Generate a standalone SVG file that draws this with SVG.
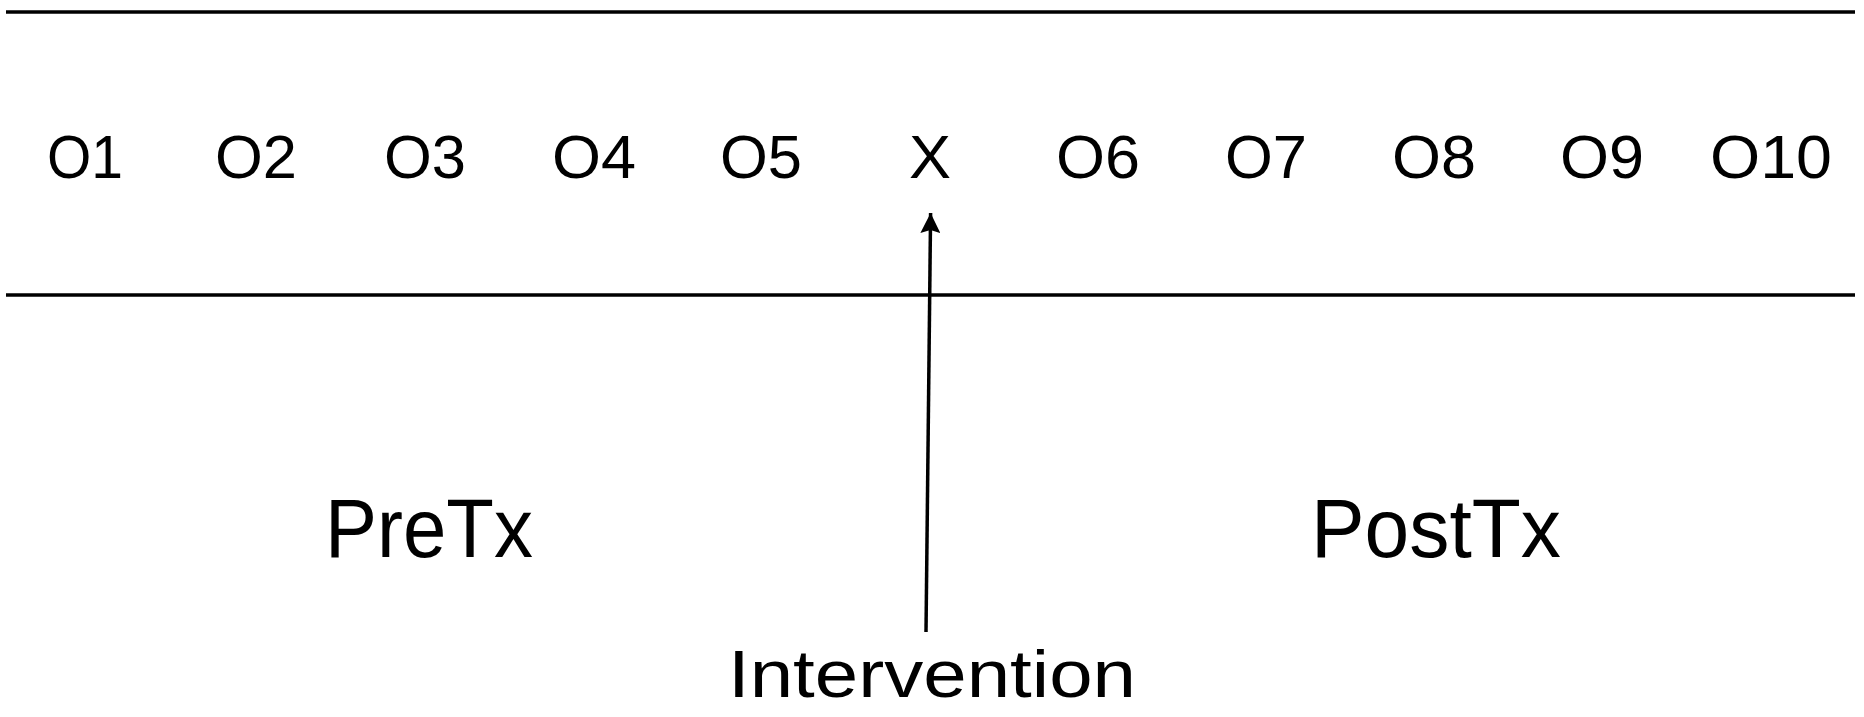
<svg xmlns="http://www.w3.org/2000/svg" width="1864" height="717" viewBox="0 0 1864 717">
<defs>
<style>
text{font-family:"Liberation Sans",Arial,sans-serif;fill:#000;text-anchor:middle}
.o{font-size:62px}
.big{font-size:83px}
.ln{stroke:#000;stroke-width:3.5;fill:none}
</style>
<marker id="ah" viewBox="0 0 10 10" refX="10" refY="5" markerWidth="20" markerHeight="20" markerUnits="userSpaceOnUse" orient="auto">
<path d="M0,0 L10,5 L0,10 L1.5,5 Z" fill="#000"/>
</marker>
</defs>
<rect width="1864" height="717" fill="#fff"/>
<g id="timeline">
<line class="ln" x1="6" y1="12" x2="1855" y2="12"/>
<line class="ln" x1="6" y1="295" x2="1855" y2="295"/>
</g>
<g id="o1"><text class="o" x="85" y="178" textLength="76" lengthAdjust="spacingAndGlyphs">O1</text></g>
<g id="o2"><text class="o" x="256" y="178" textLength="82" lengthAdjust="spacingAndGlyphs">O2</text></g>
<g id="o3"><text class="o" x="425" y="178" textLength="82" lengthAdjust="spacingAndGlyphs">O3</text></g>
<g id="o4"><text class="o" x="594" y="178" textLength="84" lengthAdjust="spacingAndGlyphs">O4</text></g>
<g id="o5"><text class="o" x="761" y="178" textLength="82" lengthAdjust="spacingAndGlyphs">O5</text></g>
<g id="x"><text class="o" x="930" y="178" textLength="42" lengthAdjust="spacingAndGlyphs">X</text></g>
<g id="o6"><text class="o" x="1098" y="178" textLength="84" lengthAdjust="spacingAndGlyphs">O6</text></g>
<g id="o7"><text class="o" x="1266" y="178" textLength="82" lengthAdjust="spacingAndGlyphs">O7</text></g>
<g id="o8"><text class="o" x="1434" y="178" textLength="84" lengthAdjust="spacingAndGlyphs">O8</text></g>
<g id="o9"><text class="o" x="1602" y="178" textLength="84" lengthAdjust="spacingAndGlyphs">O9</text></g>
<g id="o10"><text class="o" x="1771" y="178" textLength="122" lengthAdjust="spacingAndGlyphs">O10</text></g>
<g id="pretx"><text class="big" x="429" y="557" textLength="208" lengthAdjust="spacingAndGlyphs">PreTx</text></g>
<g id="posttx"><text class="big" x="1436" y="557" textLength="250" lengthAdjust="spacingAndGlyphs">PostTx</text></g>
<g id="intervention"><text x="932" y="697" font-size="66" textLength="408" lengthAdjust="spacingAndGlyphs">Intervention</text></g>
<g id="connectors">
<line class="ln" x1="926" y1="632" x2="930.6" y2="213" marker-end="url(#ah)"/>
</g>
</svg>
